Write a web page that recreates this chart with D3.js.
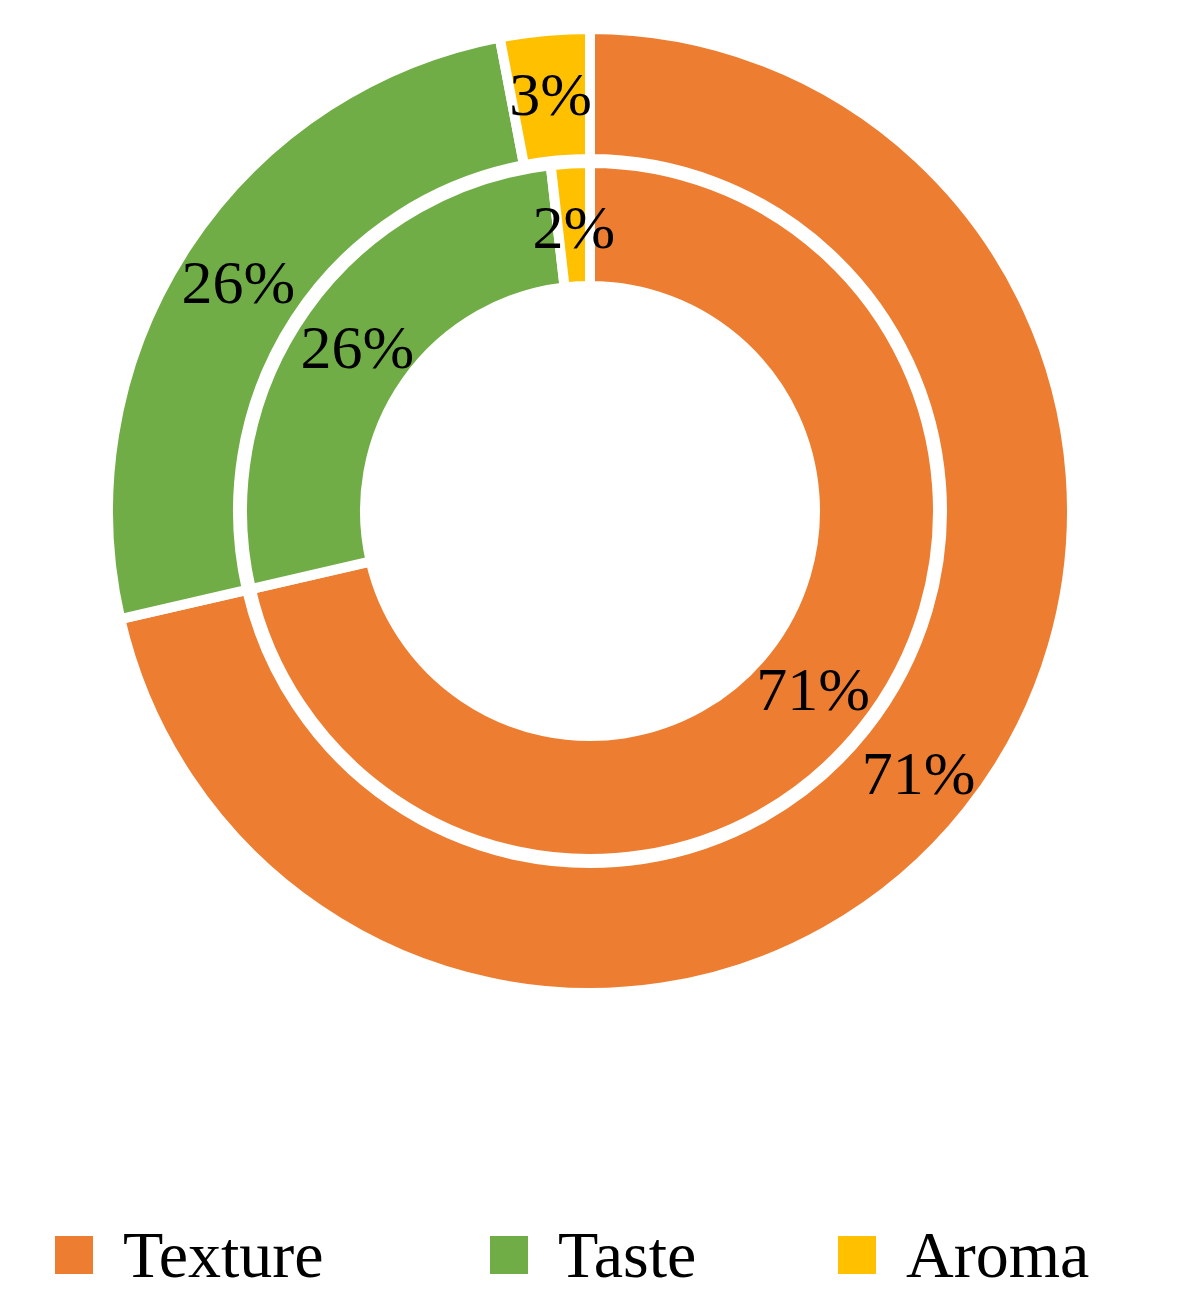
<!DOCTYPE html>
<html><head><meta charset="utf-8">
<script src="https://cdn.jsdelivr.net/npm/d3@7"></script>
<style>body{margin:0;background:#fff}</style>
</head><body>
<svg id="chart" width="1182" height="1310"></svg>
<script>
var categories = ["Texture", "Taste", "Aroma"];
var colors = ["#ED7D31", "#70AD47", "#FFC000"];
var outerValues = [71.4, 25.6, 3.0];
var innerValues = [71.4, 26.8, 1.8];
var outerLabels = ["71%", "26%", "3%"];
var innerLabels = ["71%", "26%", "2%"];

var svg = d3.select("#chart");
var cx = 590, cy = 511;
var font = "'Liberation Serif', 'DejaVu Serif', serif";
var pie = d3.pie().sort(null).value(function(d){ return d; });

function ring(values, labels, r0, r1, labelR){
  var arc = d3.arc().innerRadius(r0).outerRadius(r1);
  var lab = d3.arc().innerRadius(labelR).outerRadius(labelR);
  var g = svg.append("g").attr("transform", "translate(" + cx + "," + cy + ")");
  var arcs = pie(values);
  g.selectAll("path").data(arcs).enter().append("path")
    .attr("d", arc)
    .attr("fill", function(d, i){ return colors[i]; })
    .attr("stroke", "#fff").attr("stroke-width", 10);
  g.selectAll("text").data(arcs).enter().append("text")
    .attr("transform", function(d){ return "translate(" + lab.centroid(d) + ")"; })
    .attr("text-anchor", "middle").attr("dy", "0.35em")
    .style("font-family", font).style("font-size", "62px").attr("fill", "#000")
    .text(function(d, i){ return labels[i]; });
}
ring(outerValues, outerLabels, 352, 482, 420);
ring(innerValues, innerLabels, 225, 348, 285);

// legend
var legendX = [55, 490, 838];
var lg = svg.append("g");
categories.forEach(function(c, i){
  lg.append("rect").attr("x", legendX[i]).attr("y", 1236).attr("width", 38).attr("height", 38).attr("fill", colors[i]);
  lg.append("text").attr("x", legendX[i] + 68).attr("y", 1277)
    .style("font-family", font).style("font-size", "66px").text(c);
});
</script>
</body></html>
